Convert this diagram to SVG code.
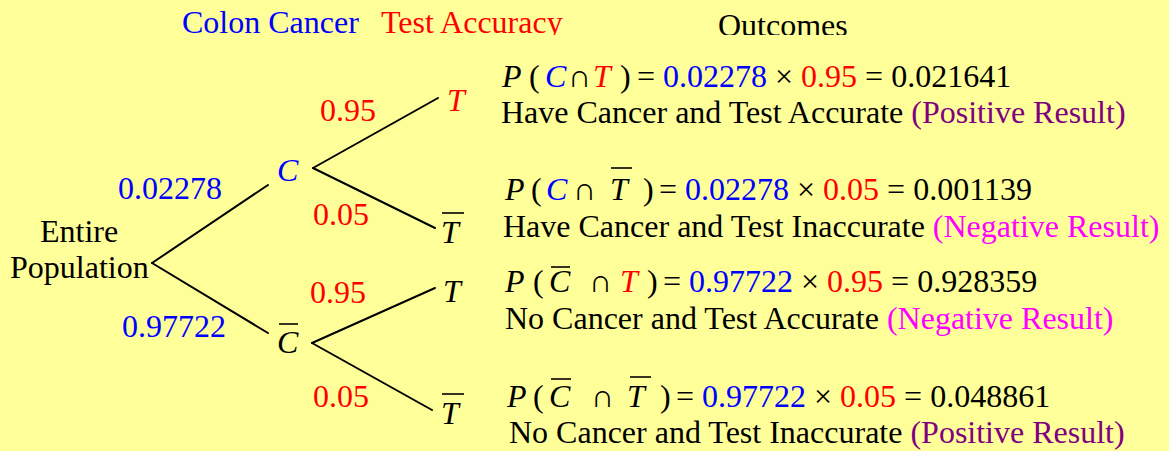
<svg xmlns="http://www.w3.org/2000/svg" width="1169" height="451" viewBox="0 0 1169 451" font-family="Liberation Serif">
<defs>
<clipPath id="hclip"><rect x="0" y="0" width="1169" height="35"/></clipPath>
<style>
.t{font-family:'Liberation Serif',serif;font-size:32px;fill:#000}
.i{font-style:italic}
.b{fill:#0000FF}
.r{fill:#FF0000}
.pu{fill:#800080}
.mg{fill:#FF00FF}
.edge{stroke:#000;stroke-width:2;fill:none;stroke-linecap:round}
.bar{stroke:#000;stroke-width:1.6}
</style>
</defs>
<rect width="1169" height="451" fill="#FFFF99"/>
<g id="header" clip-path="url(#hclip)">
<text x="182" y="33" font-family="Liberation Serif" class="t b">Colon Cancer</text>
<text x="381" y="33" font-family="Liberation Serif" class="t r">Test Accuracy</text>
<text x="718" y="36" font-family="Liberation Serif" class="t">Outcomes</text>
</g>
<g id="connectors">
<path class="edge" d="M152,263 L268,185"/>
<path class="edge" d="M152,263 L268,333"/>
<path class="edge" d="M313,168 L438,98"/>
<path class="edge" d="M313,168 L435,228"/>
<path class="edge" d="M312,343 L435,288"/>
<path class="edge" d="M312,343 L432,410"/>
<text x="118" y="199" font-family="Liberation Serif" class="t b">0.02278</text>
<text x="122" y="337" font-family="Liberation Serif" class="t b">0.97722</text>
<text x="320" y="121" font-family="Liberation Serif" class="t r">0.95</text>
<text x="313" y="225" font-family="Liberation Serif" class="t r">0.05</text>
<text x="310" y="303" font-family="Liberation Serif" class="t r">0.95</text>
<text x="313" y="407" font-family="Liberation Serif" class="t r">0.05</text>
</g>
<g id="root">
<text x="40" y="242" font-family="Liberation Serif" class="t">Entire</text>
<text x="10" y="278" font-family="Liberation Serif" class="t">Population</text>
</g>
<g id="C"><text x="277" y="181" font-family="Liberation Serif" class="t i b">C</text></g>
<g id="Cbar"><text x="277" y="353" font-family="Liberation Serif" class="t i">C</text><line class="bar" x1="279" y1="324" x2="298" y2="324"/></g>
<g id="T1"><text x="447" y="111" font-family="Liberation Serif" class="t i r">T</text></g>
<g id="Tbar1"><text x="441" y="243" font-family="Liberation Serif" class="t i">T</text><line class="bar" x1="442" y1="213" x2="464" y2="213"/></g>
<g id="T2"><text x="443" y="302" font-family="Liberation Serif" class="t i">T</text></g>
<g id="Tbar2"><text x="441" y="424" font-family="Liberation Serif" class="t i">T</text><line class="bar" x1="442" y1="394" x2="464" y2="394"/></g>
<g id="outcome1">
<text x="502" y="87" font-family="Liberation Serif" class="t i">P</text>
<text x="529" y="87" font-family="Liberation Serif" class="t">(</text>
<text x="545" y="87" font-family="Liberation Serif" class="t i b">C</text>
<text x="568" y="87" font-family="Liberation Serif" class="t">∩</text>
<text x="593" y="87" font-family="Liberation Serif" class="t i r">T</text>
<text x="620" y="87" font-family="Liberation Serif" class="t">)</text>
<text x="637" y="87" font-family="Liberation Serif" class="t">= <tspan class="b">0.02278</tspan> × <tspan class="r">0.95</tspan> = 0.021641</text>
<text x="501" y="123" font-family="Liberation Serif" class="t">Have Cancer and Test Accurate <tspan class="pu">(Positive Result)</tspan></text>
</g>
<g id="outcome2">
<text x="505" y="200" font-family="Liberation Serif" class="t i">P</text>
<text x="531" y="200" font-family="Liberation Serif" class="t">(</text>
<text x="546" y="200" font-family="Liberation Serif" class="t i b">C</text>
<text x="573" y="200" font-family="Liberation Serif" class="t">∩</text>
<text x="610" y="200" font-family="Liberation Serif" class="t i">T</text>
<line class="bar" x1="611" y1="168" x2="632" y2="168"/>
<text x="643" y="200" font-family="Liberation Serif" class="t">)</text>
<text x="659" y="200" font-family="Liberation Serif" class="t">= <tspan class="b">0.02278</tspan> × <tspan class="r">0.05</tspan> = 0.001139</text>
<text x="503" y="237" font-family="Liberation Serif" class="t">Have Cancer and Test Inaccurate <tspan class="mg">(Negative Result)</tspan></text>
</g>
<g id="outcome3">
<text x="505" y="292" font-family="Liberation Serif" class="t i">P</text>
<text x="533" y="292" font-family="Liberation Serif" class="t">(</text>
<text x="549" y="292" font-family="Liberation Serif" class="t i">C</text>
<line class="bar" x1="551" y1="267" x2="570" y2="267"/>
<text x="589" y="292" font-family="Liberation Serif" class="t">∩</text>
<text x="620" y="292" font-family="Liberation Serif" class="t i r">T</text>
<text x="647" y="292" font-family="Liberation Serif" class="t">)</text>
<text x="663" y="292" font-family="Liberation Serif" class="t">= <tspan class="b">0.97722</tspan> × <tspan class="r">0.95</tspan> = 0.928359</text>
<text x="505" y="329" font-family="Liberation Serif" class="t">No Cancer and Test Accurate <tspan class="mg">(Negative Result)</tspan></text>
</g>
<g id="outcome4">
<text x="507" y="407" font-family="Liberation Serif" class="t i">P</text>
<text x="533" y="407" font-family="Liberation Serif" class="t">(</text>
<text x="549" y="407" font-family="Liberation Serif" class="t i">C</text>
<line class="bar" x1="551" y1="379" x2="571" y2="379"/>
<text x="591" y="407" font-family="Liberation Serif" class="t">∩</text>
<text x="627" y="407" font-family="Liberation Serif" class="t i">T</text>
<line class="bar" x1="630" y1="377" x2="651" y2="377"/>
<text x="660" y="407" font-family="Liberation Serif" class="t">)</text>
<text x="676" y="407" font-family="Liberation Serif" class="t">= <tspan class="b">0.97722</tspan> × <tspan class="r">0.05</tspan> = 0.048861</text>
<text x="509" y="443" font-family="Liberation Serif" class="t">No Cancer and Test Inaccurate <tspan class="pu">(Positive Result)</tspan></text>
</g>
</svg>
